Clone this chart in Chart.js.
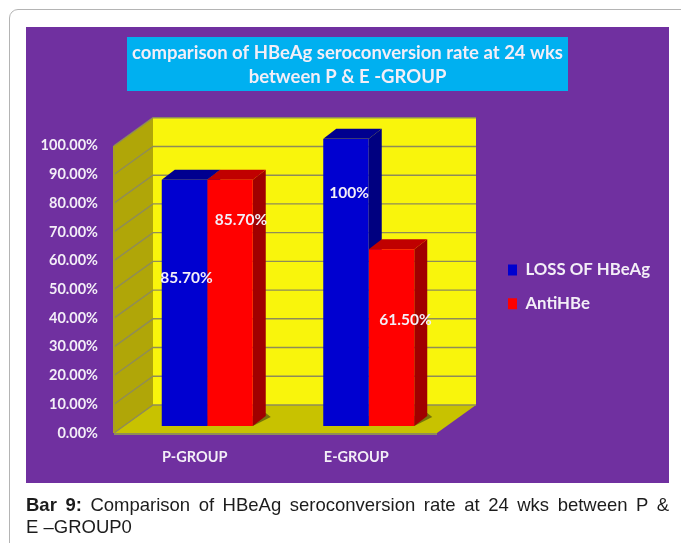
<!DOCTYPE html>
<html>
<head>
<meta charset="utf-8">
<script src="https://cdn.jsdelivr.net/npm/chart.js@4"></script>
<style>
html,body{margin:0;padding:0;background:#fff;width:681px;height:543px;overflow:hidden}
#frame{position:absolute;left:9px;top:9px;width:700px;height:570px;border:1px solid #b4b4b4;border-radius:9px;box-sizing:border-box}
#panel{position:absolute;left:26px;top:27px;width:643px;height:456px;background:#7030a0}
#wrap{position:absolute;left:0;top:0;width:681px;height:543px}
#c{filter:blur(0.4px)}
#caption{position:absolute;left:26px;top:494px;width:643px;font:18.5px/22px "Liberation Sans",Arial,sans-serif;color:#1c1c1c}
#caption div:first-child{text-align:justify;text-align-last:justify}
</style>
</head>
<body>
<div id="frame"></div>
<div id="panel"></div>
<div id="wrap"><canvas id="c" width="681" height="543"></canvas></div>
<div id="caption"><div><b>Bar 9:</b> Comparison of HBeAg seroconversion rate at 24 wks between P &amp;</div><div>E –GROUP0</div></div>
<script>
const categories = ["P-GROUP", "E-GROUP"];
const seriesNames = ["LOSS OF HBeAg", "AntiHBe"];
const lossOfHBeAg = [85.7, 100];
const antiHBe = [85.7, 61.5];
const lossLabels = ["85.70%", "100%"];
const antiLabels = ["85.70%", "61.50%"];
const titleLines = ["comparison of HBeAg seroconversion rate at 24 wks", "between P & E -GROUP"];

const FONT = 'Lato, "Open Sans", sans-serif';
const INK = "#f3eef7";
const WALL = {dx: 39, dy: -28};
const BAR = {shiftX: 12.5, shiftY: -7, dx: 13, dy: -10};
const SHADES = [{side: "#000080", top: "#00008f"}, {side: "#a00000", top: "#c00000"}];
// where each value label sits: fraction down the bar, horizontal nudge
const labelSpots = [[[0.40, 2], [0.19, 3]], [[0.165, 11], [0.40, 14]]];

function poly(ctx, pts, fill) {
  ctx.beginPath();
  pts.forEach((p, i) => i ? ctx.lineTo(p[0], p[1]) : ctx.moveTo(p[0], p[1]));
  ctx.closePath();
  ctx.fillStyle = fill;
  ctx.fill();
}

const scene = {
  id: "scene",
  afterLayout(chart) {
    // legend and title sit apart from the plot, as in the picture
    const lg = chart.legend, w = lg.width, h = lg.height;
    lg.left = 491; lg.right = lg.left + w; lg.top = 244.5; lg.bottom = lg.top + h;
    chart.titleBlock.left = 14; chart.titleBlock.right = 681;
  },
  beforeDraw(chart) {
    const ctx = chart.ctx;
    ctx.save();
    // title box
    poly(ctx, [[127, 37], [568, 37], [568, 91], [127, 91]], "#00b0f0");
    const x = chart.scales.x, y = chart.scales.y;
    const l = x.left, r = x.right, b = y.getPixelForValue(0), t = y.getPixelForValue(100);
    const d = WALL;
    // back wall
    poly(ctx, [[l + d.dx, t + d.dy], [r + d.dx, t + d.dy], [r + d.dx, b + d.dy], [l + d.dx, b + d.dy]], "#f9f50c");
    // side wall
    poly(ctx, [[l, t], [l + d.dx, t + d.dy], [l + d.dx, b + d.dy], [l, b]], "#b0a608");
    // floor
    poly(ctx, [[l, b], [r, b], [r + d.dx, b + d.dy], [l + d.dx, b + d.dy]], "#c8c200");
    ctx.strokeStyle = "#8f8c58";
    ctx.lineWidth = 1.4;
    y.ticks.forEach(tk => {
      const py = y.getPixelForValue(tk.value);
      ctx.beginPath();
      ctx.moveTo(l, py);
      ctx.lineTo(l + d.dx, py + d.dy);
      ctx.lineTo(r + d.dx, py + d.dy);
      ctx.stroke();
    });
    ctx.beginPath();
    ctx.moveTo(l, b + 1);
    ctx.lineTo(r, b + 1);
    ctx.lineWidth = 2;
    ctx.stroke();
    ctx.beginPath();
    ctx.moveTo(l, t);
    ctx.lineTo(l, b);
    ctx.strokeStyle = "#a89f20";
    ctx.stroke();
    ctx.restore();
  },
  beforeDatasetsDraw(chart) {
    const ctx = chart.ctx;
    ctx.save();
    ctx.translate(BAR.shiftX, BAR.shiftY);
    chart.data.datasets.forEach((ds, i) => {
      chart.getDatasetMeta(i).data.forEach(el => {
        const a = el.x - el.width / 2, c = el.x + el.width / 2;
        // contact shadow on the floor
        poly(ctx, [[a, el.base], [c, el.base], [c + BAR.dx + 5, el.base + BAR.dy + 1], [c + BAR.dx, el.base + BAR.dy - 3]], "#77740a");
        poly(ctx, [[c, el.y], [c + BAR.dx, el.y + BAR.dy], [c + BAR.dx, el.base + BAR.dy], [c, el.base]], SHADES[i].side);
        poly(ctx, [[a, el.y], [c, el.y], [c + BAR.dx, el.y + BAR.dy], [a + BAR.dx, el.y + BAR.dy]], SHADES[i].top);
      });
    });
  },
  afterDatasetsDraw(chart) {
    const ctx = chart.ctx;
    ctx.fillStyle = INK;
    ctx.font = "bold 15.5px " + FONT;
    ctx.textAlign = "center";
    ctx.textBaseline = "middle";
    [lossLabels, antiLabels].forEach((labels, i) => {
      chart.getDatasetMeta(i).data.forEach((el, j) => {
        const spot = labelSpots[i][j];
        ctx.fillText(labels[j], el.x + spot[1], el.y + (el.base - el.y) * spot[0]);
      });
    });
    ctx.restore();
  }
};

new Chart(document.getElementById("c"), {
  type: "bar",
  data: {
    labels: categories,
    datasets: [
      {label: seriesNames[0], data: lossOfHBeAg, backgroundColor: "#0000d0"},
      {label: seriesNames[1], data: antiHBe, backgroundColor: "#ff0000"}
    ]
  },
  options: {
    responsive: false,
    animation: false,
    events: [],
    layout: {padding: {left: 14, right: 244, top: 0, bottom: 0}},
    datasets: {bar: {categoryPercentage: 0.5635, barPercentage: 1, borderWidth: 0}},
    plugins: {
      tooltip: {enabled: false},
      title: {
        display: true,
        text: titleLines,
        color: INK,
        font: {family: FONT, size: 18.5, weight: "bold", lineHeight: 1.29},
        padding: {top: 41, bottom: 57}
      },
      legend: {
        position: "chartArea",
        align: "start",
        labels: {
          color: INK,
          font: {family: FONT, size: 16.8, weight: "bold"},
          boxWidth: 9,
          boxHeight: 11,
          padding: 17
        }
      }
    },
    scales: {
      x: {
        grid: {display: false},
        border: {display: false},
        ticks: {color: INK, font: {family: FONT, size: 14.5, weight: "bold"}, padding: 8, maxRotation: 0},
        afterFit(s) { s.height = 110; }
      },
      y: {
        min: 0,
        max: 100,
        grid: {display: false},
        border: {display: false},
        ticks: {
          stepSize: 10,
          color: INK,
          font: {family: FONT, size: 14.5, weight: "bold"},
          padding: 8,
          callback: v => v.toFixed(2) + "%"
        },
        afterFit(s) { s.width = 100; }
      }
    }
  },
  plugins: [scene]
});
</script>
</body>
</html>
